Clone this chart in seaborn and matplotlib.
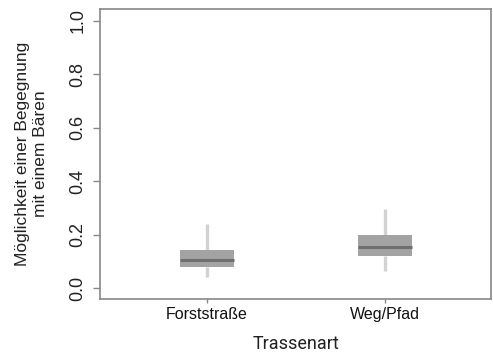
import pandas as pd
import matplotlib
matplotlib.use("Agg")
import matplotlib.pyplot as plt
import seaborn as sns

# five-number summaries: low whisker, q1, median, q3, high whisker
categories = ["Forststraße", "Weg/Pfad"]
forst_stats = [0.041, 0.078, 0.104, 0.142, 0.239]
weg_stats = [0.063, 0.119, 0.153, 0.198, 0.298]
y_ticks = [0.0, 0.2, 0.4, 0.6, 0.8, 1.0]

df = pd.DataFrame({
    "Trassenart": [categories[0]] * len(forst_stats) + [categories[1]] * len(weg_stats),
    "p": forst_stats + weg_stats,
})

sns.set_style("white")
plt.rcParams["font.family"] = ["Liberation Sans", "DejaVu Sans"]

fig = plt.figure(figsize=(4.93, 3.53), dpi=100)
ax = fig.add_axes([0.203, 0.153, 0.793, 0.822])

sns.boxplot(data=df, x="Trassenart", y="p", order=categories, whis=(0, 100),
            width=0.3, color="#a3a3a3", showcaps=False, fliersize=0,
            boxprops=dict(edgecolor="none", facecolor="#a3a3a3", zorder=3),
            medianprops=dict(color="#6f6f6f", linewidth=2.2, zorder=4),
            whiskerprops=dict(color="#d2d2d2", linewidth=2.4, zorder=2),
            ax=ax)

ax.set_xlim(-0.601, 1.596)
ax.set_ylim(-0.04, 1.045)
ax.set_yticks(y_ticks)
ax.set_yticklabels([f"{t:.1f}" for t in y_ticks], rotation=90, va="center",
                   fontsize=13, color="#222222")
ax.tick_params(axis="y", length=5, width=1, color="#888888", pad=5, left=True)
ax.tick_params(axis="x", length=3, width=1, color="#888888", pad=3, bottom=True)
for lab in ax.get_xticklabels():
    lab.set_fontsize(11.5)
    lab.set_color("#111111")

for s in ax.spines.values():
    s.set_color("#888888")
    s.set_linewidth(1.2)

ax.set_ylabel("Möglichkeit einer Begegnung\nmit einem Bären", fontsize=12.5,
              color="#222222", labelpad=15, linespacing=1.3)
ax.set_xlabel("Trassenart", fontsize=13, color="#222222", labelpad=9,
              family=["Roboto", "DejaVu Sans"])

fig.savefig("out.png", dpi=100, facecolor="white")
